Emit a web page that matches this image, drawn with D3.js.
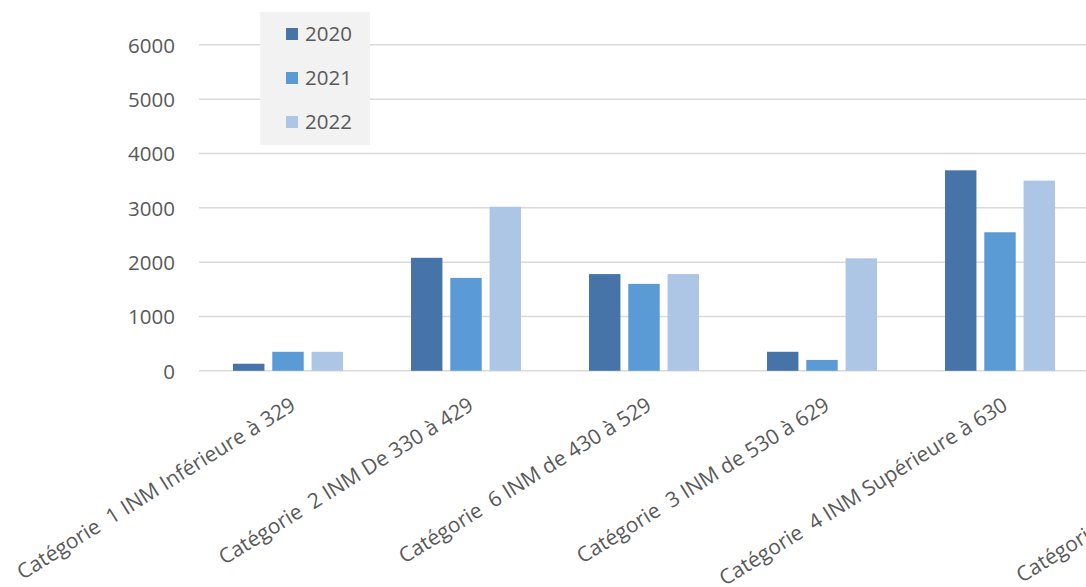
<!DOCTYPE html>
<html><head><meta charset="utf-8">
<script src="https://cdn.jsdelivr.net/npm/d3@7"></script>
<style>html,body{margin:0;padding:0;background:#fff;overflow:hidden}</style>
</head><body>
<svg id="c" width="1086" height="587"></svg>
<script>
const categories = [
  "Catégorie  1 INM Inférieure à 329",
  "Catégorie  2 INM De 330 à 429",
  "Catégorie  6 INM de 430 à 529",
  "Catégorie  3 INM de 530 à 629",
  "Catégorie  4 INM Supérieure à 630",
  "Catégorie  5 INM Autres"
];
const series = ["2020", "2021", "2022"];
const values2020 = [130, 2080, 1780, 350, 3690, null];
const values2021 = [350, 1710, 1600, 200, 2550, null];
const values2022 = [350, 3020, 1780, 2070, 3500, null];
const yTicks = [0, 1000, 2000, 3000, 4000, 5000, 6000];
const colors = ["#4674a8", "#5b9bd5", "#adc6e5"];

const svg = d3.select("#c");
const font = "'Open Sans', sans-serif";
const textColor = "#595959";

const x0 = d3.scaleBand().domain(categories).range([199, 199 + 6 * 178]).padding(0);
const x1 = d3.scaleBand().domain(series).range([34, 144]).paddingInner(0.2).paddingOuter(0);
const y = d3.scaleLinear().domain([0, 6000]).range([370.8, 44.8]);
const color = d3.scaleOrdinal().domain(series).range(colors);

// gridlines
svg.append("g").selectAll("line").data(yTicks).join("line")
  .attr("x1", 199).attr("x2", 1086)
  .attr("y1", d => y(d)).attr("y2", d => y(d))
  .attr("stroke", "#d9d9d9").attr("stroke-width", 1.5);

// y axis labels
const yAxis = d3.axisLeft(y).tickValues(yTicks).tickSize(0).tickPadding(0).tickFormat(d3.format("d"));
const yg = svg.append("g").attr("transform", "translate(175,0)").call(yAxis);
yg.select(".domain").remove();
yg.selectAll("text").attr("font-family", font).attr("font-size", 20.5).attr("fill", textColor).attr("dy", "0.36em");

// bars
const data = categories.map((c, i) => ({cat: c, vals: [values2020[i], values2021[i], values2022[i]]}));
const groups = svg.append("g").selectAll("g").data(data).join("g")
  .attr("transform", d => `translate(${x0(d.cat)},0)`);
groups.selectAll("rect").data(d => series.map((s, j) => ({s, v: d.vals[j]})).filter(e => e.v != null))
  .join("rect")
  .attr("x", d => x1(d.s)).attr("width", x1.bandwidth())
  .attr("y", d => y(d.v)).attr("height", d => y(0) - y(d.v))
  .attr("fill", d => color(d.s));

// category labels (the last one is wrapped in the original, so its visible line sits lower)
svg.append("g").selectAll("text").data(categories).join("text")
  .attr("transform", d => `translate(${x0(d) + x0.bandwidth() / 2 + 1},396) rotate(-32)`)
  .attr("text-anchor", "end")
  .attr("dy", (d, i) => i === categories.length - 1 ? "3.6em" : "0.72em")
  .attr("font-family", font).attr("font-size", 21).attr("fill", textColor)
  .style("white-space", "pre")
  .text(d => d);

// legend
const lg = svg.append("g");
lg.append("rect").attr("x", 260).attr("y", 12).attr("width", 110).attr("height", 133).attr("fill", "#f2f2f2");
const items = lg.selectAll("g").data(series).join("g")
  .attr("transform", (d, i) => `translate(286,${28 + i * 44})`);
items.append("rect").attr("width", 12).attr("height", 12).attr("fill", d => color(d));
items.append("text").attr("x", 19).attr("y", 6).attr("dy", "0.36em")
  .attr("font-family", font).attr("font-size", 20.5).attr("fill", textColor).text(d => d);
</script>
</body></html>
